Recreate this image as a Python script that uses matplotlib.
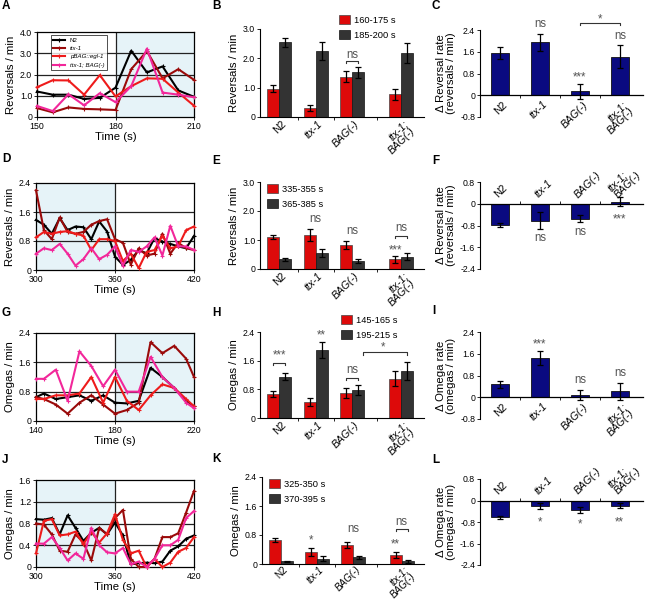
import matplotlib
matplotlib.use('Agg')
import matplotlib.pyplot as plt
import numpy as np

plt.rcParams['font.family'] = ['Liberation Sans', 'DejaVu Sans']

# ---- data ----
strains = ['N2', 'ttx-1', 'BAG(-)', 'ttx-1;\nBAG(-)']
line_names = ['N2', 'ttx-1', 'pBAG::egl-1', 'ttx-1; BAG(-)']

# A: reversals around O2 upshift
t_a = [150, 156, 162, 168, 174, 180, 186, 192, 198, 204, 210]
a_n2 = [1.2, 1.05, 1.05, 0.85, 0.9, 1.38, 3.12, 2.1, 2.38, 1.25, 0.95]
a_ttx = [0.42, 0.22, 0.45, 0.38, 0.36, 0.33, 2.25, 3.1, 1.82, 2.25, 1.75]
a_egl = [1.4, 1.73, 1.72, 1.05, 1.97, 0.97, 1.45, 1.82, 1.8, 1.15, 0.53]
a_dbl = [0.52, 0.28, 1.07, 0.55, 1.12, 0.7, 1.45, 3.22, 1.15, 1.05, 0.93]

# D: reversals around O2 downshift
t_d = list(range(300, 421, 6))
d_n2 = [1.38, 1.25, 1.0, 1.43, 1.1, 1.2, 1.18, 0.85, 1.34, 1.06, 0.37,
        0.14, 0.28, 0.55, 0.46, 0.88, 0.78, 0.72, 0.65, 0.6, 0.94]
d_ttx = [2.2, 1.1, 0.85, 1.45, 1.05, 1.0, 1.05, 1.25, 1.35, 1.4, 0.85,
         0.75, 0.15, 0.6, 0.4, 0.45, 1.0, 0.45, 0.75, 0.6, 0.55]
d_egl = [0.9, 1.05, 1.0, 1.05, 1.07, 1.0, 0.95, 0.55, 0.85, 0.85, 0.8,
         0.25, 0.45, 0.05, 0.5, 0.55, 0.95, 0.6, 0.65, 1.1, 1.2]
d_dbl = [0.45, 0.6, 0.55, 0.72, 0.45, 0.12, 0.3, 0.6, 0.3, 0.42, 0.65,
         0.12, 0.55, 0.5, 0.65, 0.9, 0.4, 1.22, 0.65, 0.65, 0.55]

# G: omegas around O2 upshift
t_g = [140, 144, 150, 156, 162, 168, 174, 180, 186, 192, 198, 204, 210, 216, 220]
g_n2 = [0.65, 0.75, 0.6, 0.65, 0.7, 0.55, 0.7, 0.5, 0.48, 0.55, 1.45, 1.2, 0.9, 0.55, 0.4]
g_ttx = [0.65, 0.6, 0.45, 0.2, 0.5, 0.7, 0.45, 0.2, 0.3, 0.5, 2.15, 1.85, 2.05, 1.7, 1.2]
g_egl = [0.6, 0.6, 0.7, 0.7, 0.75, 1.2, 0.5, 1.2, 0.55, 0.3, 0.7, 1.0, 0.9, 0.6, 0.4]
g_dbl = [1.15, 1.15, 1.4, 0.55, 1.9, 1.5, 0.95, 1.4, 0.8, 0.8, 1.75, 1.2, 0.9, 0.5, 0.35]

# J: omegas around O2 downshift
t_j = list(range(300, 421, 6))
j_n2 = [0.88, 0.87, 0.9, 0.6, 0.95, 0.72, 0.48, 0.63, 0.72, 0.6, 0.82,
        0.58, 0.05, 0.07, 0.08, 0.07, 0.1, 0.3, 0.38, 0.52, 0.58]
j_ttx = [0.8, 0.78, 0.6, 0.3, 0.28, 0.6, 0.45, 0.12, 0.72, 0.6, 0.9,
         1.05, 0.15, 0.0, 0.0, 0.15, 0.55, 0.55, 0.62, 1.0, 1.4]
j_egl = [0.25, 0.85, 0.88, 0.58, 0.6, 0.65, 0.42, 0.65, 0.45, 0.62, 0.97,
         0.5, 0.25, 0.3, 0.0, 0.15, 0.0, 0.08, 0.28, 0.35, 0.55]
j_dbl = [0.43, 0.43, 0.55, 0.35, 0.12, 0.25, 0.15, 0.72, 0.4, 0.27, 0.25,
         0.35, 0.05, 0.1, 0.0, 0.15, 0.4, 0.4, 0.5, 0.9, 1.03]

# B, E, H, K: mean rates before / after the shift
b_pre, b_pre_err = [0.97, 0.3, 1.38, 0.77], [0.11, 0.11, 0.19, 0.2]
b_post, b_post_err = [2.55, 2.25, 1.52, 2.18], [0.15, 0.3, 0.19, 0.33]
e_pre, e_pre_err = [1.1, 1.17, 0.82, 0.33], [0.07, 0.21, 0.13, 0.12]
e_post, e_post_err = [0.33, 0.55, 0.28, 0.42], [0.05, 0.15, 0.07, 0.12]
h_pre, h_pre_err = [0.68, 0.45, 0.7, 1.1], [0.08, 0.11, 0.14, 0.2]
h_post, h_post_err = [1.15, 1.9, 0.78, 1.3], [0.1, 0.22, 0.14, 0.25]
k_pre, k_pre_err = [0.67, 0.33, 0.53, 0.25], [0.05, 0.11, 0.08, 0.08]
k_post, k_post_err = [0.07, 0.15, 0.18, 0.07], [0.02, 0.06, 0.05, 0.03]

# C, F, I, L: change in rate
c_delta, c_err = [1.57, 1.95, 0.15, 1.42], [0.22, 0.32, 0.28, 0.41]
f_delta, f_err = [-0.78, -0.62, -0.55, 0.08], [0.08, 0.3, 0.12, 0.18]
i_delta, i_err = [0.47, 1.45, 0.08, 0.22], [0.12, 0.26, 0.19, 0.32]
l_delta, l_err = [-0.62, -0.2, -0.36, -0.2], [0.06, 0.11, 0.1, 0.09]

# ---- style ----
W, H = 654, 599
fig = plt.figure(figsize=(W / 100, H / 100), dpi=100)
line_colors = ['#000000', '#9a0a0a', '#ee1b1b', '#f2279a']
RED, DARK, NAVY = '#dd0a0a', '#333333', '#0a0a80'
SHADE = '#e6f3f8'
SIG = '#555555'
TICK_FS, LAB_FS, SIG_FS, XL_FS = 6.3, 8.2, 8.3, 7.6
group_pos = np.array([0, 1, 2, 3.35])
delta_pos = np.array([0, 1, 2, 3])
bw = 0.33


def box(l, t, r, b):
    return [l / W, 1 - b / H, (r - l) / W, (b - t) / H]


def fmt(v):
    return '0' if v == 0 else '{:.1f}'.format(v)


def panel_letter(x, y, s):
    fig.text(x / W, 1 - y / H, s, fontsize=8.5, fontweight='bold', va='center', ha='left')


def line_panel(rect, t, series, xlim, mid, shade, ylim, yticks, ylabel, legend=False):
    ax = fig.add_axes(box(*rect))
    ax.axvspan(*shade, color=SHADE, lw=0, zorder=0)
    for y in yticks[1:-1]:
        ax.axhline(y, color='#222222', lw=0.9, zorder=1)
    ax.axvline(mid, color='#222222', lw=0.9, zorder=1)
    for vals, c, name in zip(series, line_colors, line_names):
        ax.plot(t, vals, color=c, lw=1.5, marker='+', ms=2.5, mew=0.8,
                label=name, zorder=3, clip_on=False)
    ax.set_xlim(*xlim)
    ax.set_ylim(*ylim)
    ax.set_xticks([xlim[0], mid, xlim[1]])
    ax.set_yticks(yticks)
    ax.set_yticklabels([fmt(v) for v in yticks])
    ax.tick_params(labelsize=TICK_FS, length=2, width=0.6, pad=1.5)
    for s in ax.spines.values():
        s.set_linewidth(0.9)
    ax.set_xlabel('Time (s)', fontsize=LAB_FS, labelpad=1)
    ax.set_ylabel(ylabel, fontsize=LAB_FS, labelpad=3)
    if legend:
        leg = ax.legend(loc='upper left', bbox_to_anchor=(0.07, 1.0), fontsize=4.4,
                        frameon=True, fancybox=False, edgecolor='black',
                        handlelength=1.9, borderpad=0.4, labelspacing=0.5)
        leg.get_frame().set_linewidth(0.6)
        for txt in leg.get_texts()[1:]:
            txt.set_style('italic')
    return ax


def style_labels(labels):
    for lab in labels:
        if lab.get_text() != 'N2':
            lab.set_style('italic')


def group_panel(rect, pre, pre_err, post, post_err, ylim, yticks, ylabel, leg, leg_anchor,
                xl_fs=XL_FS, xl_pad=1.5):
    ax = fig.add_axes(box(*rect))
    ekw = dict(ecolor='black', elinewidth=0.9, capsize=2.5, capthick=0.9)
    ax.bar(group_pos - bw / 2, pre, bw, yerr=pre_err, color=RED, edgecolor='#444444',
           lw=0.5, error_kw=ekw, label=leg[0])
    ax.bar(group_pos + bw / 2, post, bw, yerr=post_err, color=DARK, edgecolor='#111111',
           lw=0.5, error_kw=ekw, label=leg[1])
    ax.set_xlim(-0.53, 3.97)
    ax.set_ylim(*ylim)
    ax.set_yticks(yticks)
    ax.set_yticklabels([fmt(v) for v in yticks])
    ax.set_xticks(group_pos + 0.05)
    ax.set_xticklabels(strains, rotation=45, ha='right', va='top', linespacing=0.9,
                       rotation_mode='anchor', fontsize=xl_fs)
    style_labels(ax.get_xticklabels())
    ax.set_xticks([0.5, 1.5, 2.67], minor=True)
    ax.tick_params(axis='x', which='major', length=0, pad=xl_pad)
    ax.tick_params(axis='x', which='minor', length=2, width=0.6)
    ax.tick_params(axis='y', labelsize=TICK_FS, length=2, width=0.6, pad=1.5)
    for s in ['top', 'right']:
        ax.spines[s].set_visible(False)
    for s in ['left', 'bottom']:
        ax.spines[s].set_linewidth(0.8)
    ax.set_ylabel(ylabel, fontsize=LAB_FS, labelpad=3)
    ax.legend(loc='upper left', bbox_to_anchor=leg_anchor, fontsize=6.7, frameon=False,
              handlelength=1.15, handleheight=1.15, handletextpad=0.45, labelspacing=0.55,
              borderaxespad=0)
    return ax


def delta_panel(rect, vals, err, ylim, yticks, ylabel, top=False):
    ax = fig.add_axes(box(*rect))
    ax.bar(delta_pos, vals, 0.45, yerr=err, color=NAVY, edgecolor='#111111', lw=0.6,
           error_kw=dict(ecolor='black', elinewidth=0.9, capsize=2.5, capthick=0.9),
           zorder=2)
    ax.set_xlim(-0.5, 3.58)
    ax.set_ylim(*ylim)
    ax.set_yticks(yticks)
    ax.set_yticklabels([fmt(v) for v in yticks])
    ax.set_xticks([0.5, 1.5, 2.5], minor=True)
    if top:
        ax.xaxis.tick_top()
        ax.spines['top'].set_position(('data', 0))
        ax.spines['bottom'].set_visible(False)
        ax.set_xticks(delta_pos)
        ax.set_xticklabels(strains, rotation=45, ha='left', va='bottom', linespacing=0.9,
                           rotation_mode='anchor', fontsize=XL_FS)
        ax.spines['right'].set_visible(False)
        line_spine = ax.spines['top']
    else:
        ax.spines['bottom'].set_position(('data', 0))
        ax.set_xticks(delta_pos + 0.06)
        ax.set_xticklabels(strains, rotation=45, ha='right', va='top', linespacing=0.9,
                           rotation_mode='anchor', fontsize=XL_FS)
        ax.spines['top'].set_visible(False)
        ax.spines['right'].set_visible(False)
        line_spine = ax.spines['bottom']
    line_spine.set_linewidth(0.9)
    line_spine.set_zorder(3)
    style_labels(ax.get_xticklabels())
    ax.tick_params(axis='x', which='major', length=0, pad=3)
    ax.tick_params(axis='x', which='minor', length=2, width=0.6)
    ax.tick_params(axis='y', labelsize=TICK_FS, length=2, width=0.6, pad=1.5)
    ax.spines['left'].set_linewidth(0.8)
    ax.set_ylabel(ylabel, fontsize=LAB_FS, labelpad=3, linespacing=1.0)
    return ax


def sig(ax, x, y, s):
    ax.text(x, y, s, ha='center', va='center', fontsize=SIG_FS, color=SIG)


def bracket(ax, x1, x2, y, h):
    ax.plot([x1, x1, x2, x2], [y - h, y, y, y - h], color='#333333', lw=0.8, clip_on=False)


# ---- row 1 ----
panel_letter(2, 6, 'A')
line_panel((37, 32, 194, 117), t_a, [a_n2, a_ttx, a_egl, a_dbl], (150, 210), 180,
           (180, 210), (0, 4), [0, 1, 2, 3, 4], 'Reversals / min', legend=True)

panel_letter(212, 6, 'B')
ax = group_panel((260, 29, 424, 117), b_pre, b_pre_err, b_post, b_post_err, (0, 3),
                 [0, 1, 2, 3], 'Reversals / min', ['160-175 s', '185-200 s'], (0.46, 1.2))
bracket(ax, 2 - bw / 2, 2 + bw / 2, 1.92, 0.07)
sig(ax, 2, 2.1, 'ns')

panel_letter(432, 6, 'C')
ax = delta_panel((480, 30, 643, 117), c_delta, c_err, (-0.8, 2.4),
                 [-0.8, 0, 0.8, 1.6, 2.4], '\u0394 Reversal rate\n(reversals / min)')
sig(ax, 1, 2.63, 'ns')
sig(ax, 2, 0.66, '***')
sig(ax, 3, 2.18, 'ns')
bracket(ax, 2, 3, 2.67, 0.1)
sig(ax, 2.5, 2.8, '*')

# ---- row 2 ----
panel_letter(2, 159, 'D')
line_panel((36, 183, 194, 270), t_d, [d_n2, d_ttx, d_egl, d_dbl], (300, 420), 360,
           (300, 360), (0, 2.4), [0, 0.8, 1.6, 2.4], 'Reversals / min')

panel_letter(212, 161, 'E')
ax = group_panel((260, 182, 424, 269), e_pre, e_pre_err, e_post, e_post_err, (0, 3),
                 [0, 1, 2, 3], 'Reversals / min', ['335-355 s', '365-385 s'], (0.02, 1.02))
sig(ax, 1, 1.72, 'ns')
sig(ax, 2, 1.32, 'ns')
sig(ax, 3.35 - bw / 2, 0.64, '***')
bracket(ax, 3.35 - bw / 2, 3.35 + bw / 2, 1.15, 0.07)
sig(ax, 3.35, 1.4, 'ns')

panel_letter(432, 161, 'F')
ax = delta_panel((480, 182, 643, 269), f_delta, f_err, (-2.4, 0.8),
                 [-2.4, -1.6, -0.8, 0, 0.8], '\u0394 Reversal rate\n(reversals / min)', top=True)
sig(ax, 1, -1.27, 'ns')
sig(ax, 2, -1.05, 'ns')
sig(ax, 3, -0.58, '***')

# ---- row 3 ----
panel_letter(2, 313, 'G')
line_panel((36, 333, 194, 421), t_g, [g_n2, g_ttx, g_egl, g_dbl], (140, 220), 180,
           (180, 220), (0, 2.4), [0, 0.8, 1.6, 2.4], 'Omegas / min')

panel_letter(212, 313, 'H')
ax = group_panel((260, 332, 424, 418), h_pre, h_pre_err, h_post, h_post_err, (0, 2.4),
                 [0, 0.8, 1.6, 2.4], 'Omegas / min', ['145-165 s', '195-215 s'], (0.47, 1.24))
bracket(ax, -bw / 2, bw / 2, 1.53, 0.06)
sig(ax, 0, 1.74, '***')
sig(ax, 1 + bw / 2, 2.3, '**')
bracket(ax, 2 - bw / 2, 2 + bw / 2, 1.13, 0.06)
sig(ax, 2, 1.34, 'ns')
bracket(ax, 2 + 0.3, 3.35 + bw / 2, 1.83, 0.08)
sig(ax, 2.85, 1.96, '*')

panel_letter(432, 311, 'I')
ax = delta_panel((480, 332, 643, 419), i_delta, i_err, (-0.8, 2.4),
                 [-0.8, 0, 0.8, 1.6, 2.4], '\u0394 Omega rate\n(omegas / min)')
sig(ax, 1, 1.95, '***')
sig(ax, 2, 0.63, 'ns')
sig(ax, 3, 0.89, 'ns')

# ---- row 4 ----
panel_letter(2, 460, 'J')
line_panel((36, 480, 194, 567), t_j, [j_n2, j_ttx, j_egl, j_dbl], (300, 420), 360,
           (300, 360), (0, 1.6), [0, 0.4, 0.8, 1.2, 1.6], 'Omegas / min')

panel_letter(212, 459, 'K')
ax = group_panel((262, 477, 424, 564), k_pre, k_pre_err, k_post, k_post_err, (0, 2.4),
                 [0, 0.8, 1.6, 2.4], 'Omegas / min', ['325-350 s', '370-395 s'], (0.02, 1.02),
                 xl_fs=7.1, xl_pad=0.5)
sig(ax, 1 - bw / 2, 0.64, '*')
sig(ax, 2, 0.96, 'ns')
sig(ax, 3.35 - bw / 2, 0.55, '**')
bracket(ax, 3.35 - bw / 2, 3.35 + bw / 2, 0.96, 0.06)
sig(ax, 3.35, 1.16, 'ns')

panel_letter(432, 460, 'L')
ax = delta_panel((480, 479, 643, 565), l_delta, l_err, (-2.4, 0.8),
                 [-2.4, -1.6, -0.8, 0, 0.8], '\u0394 Omega rate\n(omegas / min)', top=True)
sig(ax, 1, -0.8, '*')
sig(ax, 2, -0.9, '*')
sig(ax, 3, -0.8, '**')

fig.savefig('out.png', dpi=100)
